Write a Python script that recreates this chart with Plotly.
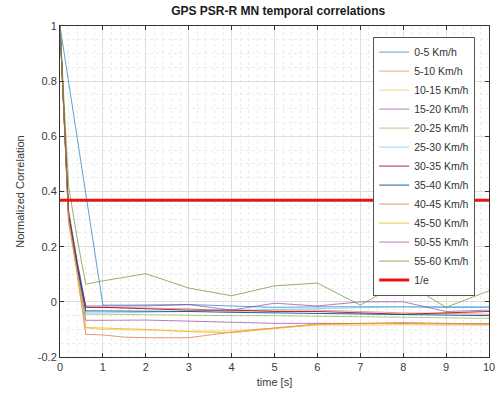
import math
import plotly.graph_objects as go

# Time lags [s] at which the correlation is sampled
time_s = [0, 0.2, 0.4, 0.6, 1, 1.5, 2, 3, 4, 5, 6, 7, 8, 9, 10]

speed_bins = ["0-5 Km/h", "5-10 Km/h", "10-15 Km/h", "15-20 Km/h", "20-25 Km/h",
              "25-30 Km/h", "30-35 Km/h", "35-40 Km/h", "40-45 Km/h", "45-50 Km/h",
              "50-55 Km/h", "55-60 Km/h"]

corr_0_5   = [1, 0.80, 0.60, 0.40, -0.012, -0.012, -0.012, -0.010, -0.015, -0.020, -0.018, -0.017, -0.018, -0.020, -0.020]
corr_5_10  = [1, 0.31, 0.13, -0.020, -0.020, -0.021, -0.022, -0.025, -0.035, -0.030, -0.030, -0.035, -0.040, -0.042, -0.045]
corr_10_15 = [1, 0.30, 0.11, -0.095, -0.100, -0.102, -0.104, -0.106, -0.105, -0.095, -0.085, -0.085, -0.083, -0.085, -0.085]
corr_15_20 = [1, 0.31, 0.12, -0.067, -0.067, -0.066, -0.066, -0.070, -0.075, -0.078, -0.078, -0.078, -0.079, -0.080, -0.080]
corr_20_25 = [1, 0.32, 0.13, -0.045, -0.045, -0.046, -0.047, -0.048, -0.050, -0.050, -0.052, -0.054, -0.055, -0.058, -0.060]
corr_25_30 = [1, 0.33, 0.14, -0.040, -0.040, -0.040, -0.038, -0.035, -0.030, -0.028, -0.025, -0.020, -0.018, -0.017, -0.017]
corr_30_35 = [1, 0.32, 0.14, -0.020, -0.020, -0.022, -0.025, -0.030, -0.030, -0.035, -0.035, -0.040, -0.045, -0.040, -0.035]
corr_35_40 = [1, 0.31, 0.13, -0.033, -0.033, -0.033, -0.034, -0.035, -0.038, -0.040, -0.043, -0.045, -0.048, -0.050, -0.050]
corr_40_45 = [1, 0.29, 0.10, -0.118, -0.120, -0.128, -0.130, -0.130, -0.110, -0.095, -0.080, -0.078, -0.075, -0.078, -0.080]
corr_45_50 = [1, 0.30, 0.11, -0.093, -0.095, -0.097, -0.100, -0.108, -0.112, -0.097, -0.082, -0.080, -0.077, -0.080, -0.082]
corr_50_55 = [1, 0.33, 0.15, -0.015, -0.015, -0.015, -0.015, -0.010, -0.030, -0.005, -0.015, 0.000, 0.000, -0.035, -0.030]
corr_55_60 = [1, 0.42, 0.23, 0.064, 0.076, 0.088, 0.102, 0.050, 0.022, 0.058, 0.068, -0.012, 0.075, -0.020, 0.040]

series = [corr_0_5, corr_5_10, corr_10_15, corr_15_20, corr_20_25, corr_25_30,
          corr_30_35, corr_35_40, corr_40_45, corr_45_50, corr_50_55, corr_55_60]

colors = ["rgba(0,114,189,0.65)", "rgba(217,83,25,0.55)", "rgba(237,177,32,0.55)",
          "rgba(126,47,142,0.6)", "rgba(119,172,48,0.6)", "rgba(77,190,238,0.6)",
          "rgba(162,20,47,0.9)", "rgba(0,80,150,0.9)", "rgba(217,83,25,0.6)",
          "rgba(237,177,32,0.8)", "rgba(126,47,142,0.6)", "rgba(119,150,48,0.75)"]

inv_e = 1 / math.e

fig = go.Figure()
for name, vals, col in zip(speed_bins, series, colors):
    fig.add_trace(go.Scatter(x=time_s, y=vals, mode="lines", name=name,
                             line=dict(color=col, width=1)))

fig.add_trace(go.Scatter(x=[time_s[0], time_s[-1]], y=[inv_e, inv_e], mode="lines",
                         name="1/e", line=dict(color="rgb(235,20,20)", width=3)))

axis_font = dict(family="Liberation Sans, Arial, sans-serif", size=11, color="#3a3a3a")

fig.update_layout(
    width=503, height=399,
    margin=dict(l=60, r=8, t=26, b=42),
    paper_bgcolor="white", plot_bgcolor="white",
    font=dict(family="Liberation Sans, Arial, sans-serif", color="#262626"),
    title=dict(text="<b>GPS PSR-R MN temporal correlations</b>",
               x=0.553, xanchor="center", y=0.972, yanchor="middle",
               font=dict(size=12, color="#1a1a1a")),
    showlegend=True,
    legend=dict(x=0.73, xanchor="left", y=0.968, yanchor="top",
                bgcolor="white", bordercolor="#555555", borderwidth=1,
                font=dict(size=10.5, color="#333333"), tracegroupgap=0,
                itemwidth=30),
    xaxis=dict(range=[0, 10], tickvals=list(range(0, 11)),
               ticktext=[str(v) for v in range(0, 11)],
               showline=True, linecolor="#333333", linewidth=1, mirror="ticks",
               ticks="inside", ticklen=4, tickcolor="#333333",
               showgrid=True, gridcolor="#dedede", gridwidth=1, zeroline=False,
               minor=dict(dtick=0.2, showgrid=True, gridcolor="#ececec",
                          griddash="dot", ticks=""),
               tickfont=axis_font,
               title=dict(text="time [s]", font=dict(size=11, color="#3a3a3a"),
                          standoff=6)),
    yaxis=dict(range=[-0.2, 1],
               tickvals=[-0.2, 0, 0.2, 0.4, 0.6, 0.8, 1],
               ticktext=["-0.2", "0", "0.2", "0.4", "0.6", "0.8", "1"],
               showline=True, linecolor="#333333", linewidth=1, mirror="ticks",
               ticks="inside", ticklen=4, tickcolor="#333333",
               showgrid=True, gridcolor="#dedede", gridwidth=1, zeroline=False,
               minor=dict(dtick=0.05, showgrid=True, gridcolor="#ececec",
                          griddash="dot", ticks=""),
               tickfont=axis_font,
               title=dict(text="Normalized Correlation",
                          font=dict(size=11, color="#3a3a3a"), standoff=10)),
)

fig.write_html("out.html")
